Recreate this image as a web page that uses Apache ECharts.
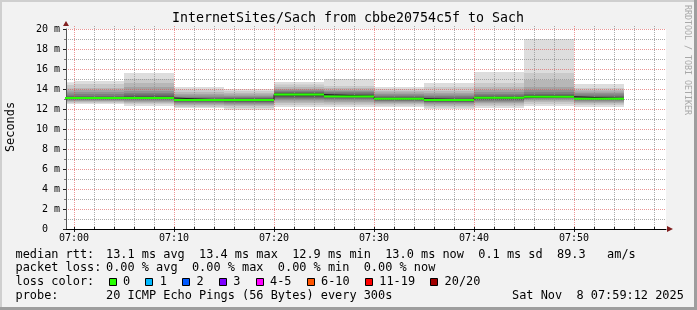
<!DOCTYPE html>
<html><head><meta charset="utf-8">
<script src="https://cdn.jsdelivr.net/npm/echarts@6/dist/echarts.min.js"></script>
<style>html,body{margin:0;padding:0;background:#f2f2f2}#c{width:697px;height:310px}</style>
</head><body><div id="c"></div>
<script>
// ---------- data ----------
const TITLE = 'InternetSites/Sach from cbbe20754c5f to Sach';
const X_START = '06:59:12', X_END = '07:59:12';
const Y_MIN = 0, Y_MAX = 20, Y_STEP = 2;
const xTickLabels = ['07:00', '07:10', '07:20', '07:30', '07:40', '07:50'];
const binEnds = ['07:00', '07:05', '07:10', '07:15', '07:20', '07:25', '07:30', '07:35', '07:40', '07:45', '07:50', '07:55'];
const BIN_MINUTES = 5;
// 20 sorted ping RTTs (ms) per 5-minute bin
const pings_0700 = [12.5,12.6,12.7,12.8,12.85,12.9,12.95,13.0,13.05,13.1,13.1,13.15,13.2,13.3,13.45,13.65,13.85,14.05,14.4,14.67];
const pings_0705 = [12.5,12.6,12.7,12.8,12.85,12.9,12.95,13.0,13.05,13.1,13.1,13.15,13.2,13.3,13.5,13.7,13.9,14.1,14.5,14.8];
const pings_0710 = [12.3,12.5,12.6,12.7,12.8,12.9,12.95,13.0,13.05,13.1,13.1,13.2,13.3,13.45,13.6,13.8,14.2,14.6,15.0,15.6];
const pings_0715 = [12.1,12.2,12.35,12.45,12.55,12.65,12.7,12.8,12.85,12.9,12.9,12.95,13.0,13.1,13.2,13.35,13.5,13.7,13.95,14.2];
const pings_0720 = [11.9,12.1,12.3,12.4,12.5,12.6,12.7,12.75,12.8,12.85,12.95,13.0,13.05,13.1,13.2,13.3,13.45,13.6,13.8,14.0];
const pings_0725 = [12.2,12.4,12.6,12.75,12.9,13.0,13.1,13.2,13.3,13.4,13.5,13.55,13.6,13.7,13.8,13.9,14.0,14.2,14.45,14.7];
const pings_0730 = [12.2,12.4,12.55,12.7,12.85,12.95,13.05,13.15,13.2,13.25,13.3,13.35,13.45,13.55,13.7,13.8,13.9,14.1,14.3,15.0];
const pings_0735 = [12.2,12.35,12.5,12.6,12.7,12.8,12.85,12.9,12.95,13.0,13.05,13.1,13.15,13.25,13.35,13.5,13.65,13.8,14.0,14.2];
const pings_0740 = [12.0,12.15,12.3,12.45,12.55,12.65,12.7,12.75,12.8,12.85,12.95,13.0,13.05,13.15,13.3,13.45,13.6,13.8,14.2,14.6];
const pings_0745 = [12.1,12.3,12.45,12.6,12.7,12.8,12.9,12.95,13.0,13.1,13.15,13.2,13.25,13.35,13.5,13.7,13.9,14.2,14.6,15.7];
const pings_0750 = [12.3,12.5,12.7,12.85,12.95,13.05,13.1,13.15,13.2,13.2,13.25,13.3,13.4,13.5,13.7,13.9,14.2,14.9,15.6,19.0];
const pings_0755 = [12.2,12.4,12.55,12.65,12.75,12.85,12.9,12.95,13.0,13.0,13.05,13.1,13.2,13.3,13.45,13.6,13.75,13.9,14.1,14.5];
const medians = [13.1, 13.1, 13.1, 12.9, 12.9, 13.45, 13.25, 13.03, 12.9, 13.13, 13.23, 13.03];
const lossColorLabels = ['0', '1', '2', '3', '4-5', '6-10', '11-19', '20/20'];
const lossColors = ['#26ff00', '#00b8ff', '#0059ff', '#7e00ff', '#ff00ff', '#ff5500', '#ff0000', '#a10000'];
const statMedian = '13.1 ms avg  13.4 ms max  12.9 ms min  13.0 ms now  0.1 ms sd  89.3   am/s';
const statLoss = '0.00 % avg  0.00 % max  0.00 % min  0.00 % now';
const probeText = '20 ICMP Echo Pings (56 Bytes) every 300s';
const stampText = 'Sat Nov  8 07:59:12 2025';
const watermark = 'RRDTOOL / TOBI OETIKER';

// ---------- build ----------
const toMin = s => { const a = s.split(':').map(Number); return a[0] * 60 + a[1] + (a[2] || 0) / 60; };
const XMIN = toMin(X_START), XMAX = toMin(X_END);
const allPings = [pings_0700, pings_0705, pings_0710, pings_0715, pings_0720, pings_0725, pings_0730, pings_0735, pings_0740, pings_0745, pings_0750, pings_0755];

const smokeData = [];
allPings.forEach((p, i) => {
  const end = toMin(binEnds[i]), start = end - BIN_MINUTES;
  const n = p.length, half = n / 2;
  for (let k = 0; k < half; k++) smokeData.push([start, end, p[k], p[n - 1 - k], k]);
});
const darkMed = [], greenMed = [];
medians.forEach((m, i) => {
  const end = toMin(binEnds[i]), start = end - BIN_MINUTES;
  darkMed.push([start, m], [end, m]);
  greenMed.push([start, m], [end, m], [end, '-']);
});
const majorX = xTickLabels.map(toMin);
const vGrid = [];
for (let v = Math.ceil(XMIN / 2) * 2; v <= XMAX; v += 2) {
  const mi = majorX.indexOf(v);
  vGrid.push([v, mi >= 0 ? 1 : 0, mi]);
}

const MONO = '"DejaVu Sans Mono"';
const MAJ = 'rgba(222,79,79,0.6)', MIN = 'rgba(143,143,143,0.75)';

function renderSmoke(params, api) {
  const x0 = Math.max(api.value(0), XMIN);
  const a = api.coord([x0, api.value(3)]);
  const b = api.coord([api.value(1), api.value(2)]);
  const k = api.value(4);
  const g = Math.floor(190 / 10 * (10 - (k + 1))) + 50;
  return { type: 'rect', shape: { x: a[0], y: a[1], width: b[0] - a[0], height: b[1] - a[1] },
           style: { fill: 'rgb(' + g + ',' + g + ',' + g + ')' } };
}
function renderVGrid(params, api) {
  const v = api.value(0), major = api.value(1), li = api.value(2);
  const b = api.coord([v, Y_MIN]), t = api.coord([v, Y_MAX]);
  const x = Math.round(b[0]) + 0.5;
  const ch = [
    { type: 'line', shape: { x1: x, y1: t[1] - 3, x2: x, y2: b[1] }, style: { stroke: major ? MAJ : MIN, lineWidth: 1, lineDash: [1, 1] } },
    { type: 'line', shape: { x1: x, y1: b[1] - 2, x2: x, y2: b[1] + (major ? 3 : 1) }, style: { stroke: '#1f1f1f', lineWidth: 1 } }
  ];
  if (major) ch.push({ type: 'text', style: { text: xTickLabels[li], x: b[0], y: b[1] + 9, align: 'center', verticalAlign: 'middle', font: '10px ' + MONO, fill: '#000' } });
  return { type: 'group', children: ch };
}

const chart = echarts.init(document.getElementById('c'), null, { renderer: 'canvas' });
const txt = (text, x, y, extra) => Object.assign({ type: 'text', x: x, y: y, style: Object.assign({ text: text, font: '11.9px ' + MONO, fill: '#000', verticalAlign: 'middle' }, extra || {}) });

const graphics = [
  { type: 'rect', shape: { x: 0, y: 0, width: 697, height: 2 }, style: { fill: '#cfcfcf' } },
  { type: 'rect', shape: { x: 0, y: 0, width: 2, height: 310 }, style: { fill: '#cfcfcf' } },
  { type: 'rect', shape: { x: 694, y: 0, width: 3, height: 310 }, style: { fill: '#9e9e9e' } },
  { type: 'rect', shape: { x: 0, y: 307, width: 697, height: 3 }, style: { fill: '#9e9e9e' } },
  txt(TITLE, 348, 19, { align: 'center', font: '13.3px ' + MONO }),
  { type: 'text', x: 10.5, y: 127, rotation: Math.PI / 2, style: { text: 'Seconds', font: '11.9px ' + MONO, fill: '#000', align: 'center', verticalAlign: 'middle' } },
  { type: 'text', x: 687, y: 60, rotation: -Math.PI / 2, style: { text: watermark, font: '8.3px ' + MONO, fill: '#a8a8a8', align: 'center', verticalAlign: 'middle' } },
  txt('median rtt:', 15.5, 254.5), txt(statMedian, 106, 254.5),
  txt('packet loss:', 15.5, 268.3), txt(statLoss, 106, 268.3),
  txt('loss color:', 15.5, 282.3),
  txt('probe:', 15.5, 296), txt(probeText, 106, 296), txt(stampText, 512, 296)
];
let bx = 108.7;
lossColorLabels.forEach((lab, i) => {
  graphics.push({ type: 'rect', shape: { x: Math.round(bx) + 0.5, y: 278.5, width: 7, height: 7 }, style: { fill: lossColors[i], stroke: '#000', lineWidth: 1 } });
  graphics.push(txt(lab, bx + 14.3, 282.3));
  bx += (lab.length + 4) * 7.15 + 1;
});

chart.setOption({
  animation: false,
  backgroundColor: '#f2f2f2',
  grid: { left: 66, top: 29, width: 600, height: 200, show: true, backgroundColor: '#ffffff', borderWidth: 0, containLabel: false, outerBoundsMode: 'none' },
  xAxis: { type: 'value', min: XMIN, max: XMAX, z: 3,
    axisLine: { show: true, onZero: false, lineStyle: { color: '#000', width: 1 } },
    axisTick: { show: false }, axisLabel: { show: false }, splitLine: { show: false } },
  yAxis: { type: 'value', min: Y_MIN, max: Y_MAX, interval: Y_STEP, z: 3,
    axisLine: { show: true, lineStyle: { color: '#555', width: 1 } },
    axisTick: { show: true, length: 3, lineStyle: { color: '#1f1f1f' } },
    minorTick: { show: true, splitNumber: 2, length: 2, lineStyle: { color: '#777' } },
    axisLabel: { formatter: v => v === 0 ? '0  ' : v + ' m', fontFamily: 'DejaVu Sans Mono', fontSize: 10, color: '#000', margin: 6 },
    splitLine: { show: true, lineStyle: { color: MAJ, type: [1, 1], width: 1 } },
    minorSplitLine: { show: true, lineStyle: { color: MIN, type: [1, 1], width: 1 } } },
  series: [
    { type: 'custom', name: 'smoke', z: 1, clip: true, renderItem: renderSmoke, data: smokeData, encode: { x: [0, 1], y: [2, 3] }, silent: true },
    { type: 'custom', name: 'vgrid', z: 3, renderItem: renderVGrid, data: vGrid, encode: { x: 0 }, silent: true },
    { type: 'line', name: 'median', z: 4, data: darkMed, showSymbol: false, lineStyle: { color: '#202020', width: 1 }, silent: true },
    { type: 'line', name: 'median loss 0', z: 5, data: greenMed, showSymbol: false, connectNulls: false, lineStyle: { color: lossColors[0], width: 2 }, silent: true }
  ],
  graphic: graphics
});

const pa = chart.convertToPixel({ gridIndex: 0 }, [XMAX, Y_MIN]);
const pb = chart.convertToPixel({ gridIndex: 0 }, [XMIN, Y_MAX]);
graphics.push(
  { type: 'polygon', shape: { points: [[pa[0] + 1, pa[1] - 3], [pa[0] + 7, pa[1]], [pa[0] + 1, pa[1] + 3]] }, style: { fill: '#801f1f' } },
  { type: 'polygon', shape: { points: [[pb[0] - 3, pb[1] - 3], [pb[0], pb[1] - 8], [pb[0] + 3, pb[1] - 3]] }, style: { fill: '#801f1f' } }
);
chart.setOption({ graphic: graphics });
</script></body></html>
